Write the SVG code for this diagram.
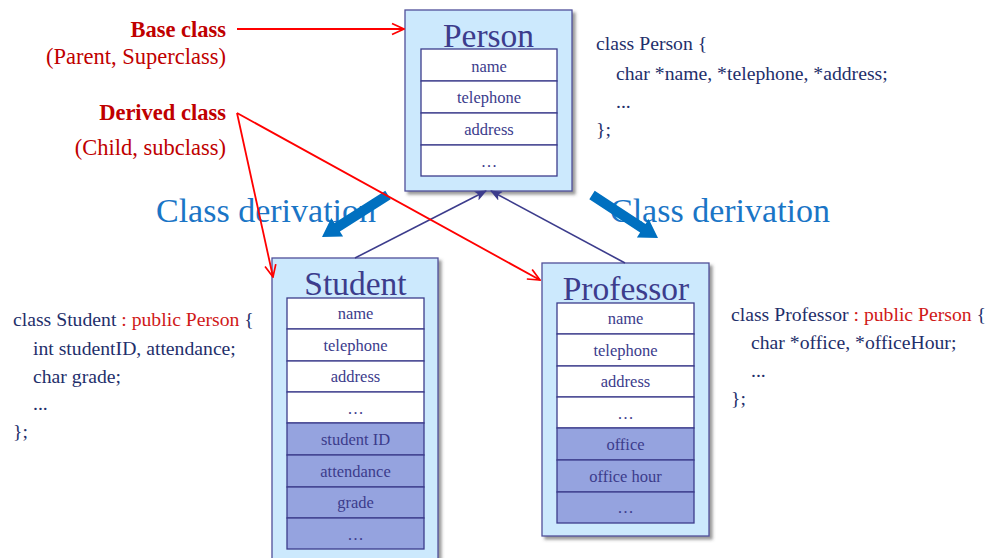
<svg xmlns="http://www.w3.org/2000/svg" width="991" height="558" viewBox="0 0 991 558">
  <defs>
    <filter id="shadow" x="-10%" y="-10%" width="130%" height="130%">
      <feDropShadow dx="3" dy="3" stdDeviation="1.5" flood-color="#555" flood-opacity="0.6"/>
    </filter>
    <marker id="redHead" viewBox="0 0 14 14" refX="13" refY="7" markerWidth="14" markerHeight="14" markerUnits="userSpaceOnUse" orient="auto">
      <path d="M1,1.5 L13,7 L1,12.5" fill="none" stroke="#ff0000" stroke-width="1.7"/>
    </marker>
    <marker id="navyHead" viewBox="0 0 12 10" refX="11" refY="5" markerWidth="12" markerHeight="10" markerUnits="userSpaceOnUse" orient="auto">
      <path d="M0,0 L12,5 L0,10 L3,5 Z" fill="#3c3c8c"/>
    </marker>
  </defs>
  <style>
    .outer { fill: #cce9fd; stroke: #50509a; stroke-width: 1.3; }
    .row { fill: #ffffff; stroke: #3c3c8c; stroke-width: 1.3; }
    .rowx { fill: #95a3df; stroke: #3c3c8c; stroke-width: 1.3; }
    .title { font-family: "Liberation Serif", serif; font-size: 33.5px; fill: #3c3c8c; text-anchor: middle; }
    .cell { font-family: "Liberation Serif", serif; font-size: 16.5px; fill: #3c3c8c; text-anchor: middle; }
    .code { font-family: "Liberation Serif", serif; font-size: 19.7px; fill: #1f2f6b; }
    .kw { fill: #d01818; }
    .lbl { font-family: "Liberation Serif", serif; font-size: 22.5px; fill: #c00000; text-anchor: end; }
    .lblb { font-weight: bold; }
    .deriv { font-family: "Liberation Serif", serif; font-size: 34px; fill: #1a75c6; }
    .red { stroke: #ff0000; stroke-width: 1.8; fill: none; marker-end: url(#redHead); }
    .navy { stroke: #3c3c8c; stroke-width: 1.6; fill: none; marker-end: url(#navyHead); }
    .blue { fill: #0070c0; }
  </style>

  <!-- side labels -->
  <g id="labels">
    <text class="lbl lblb" x="226" y="37">Base class</text>
    <text class="lbl" x="226" y="64">(Parent, Superclass)</text>
    <text class="lbl lblb" x="226" y="120">Derived class</text>
    <text class="lbl" x="226" y="155">(Child, subclass)</text>
  </g>

  <!-- Class derivation captions -->
  <text class="deriv" x="156" y="222">Class derivation</text>
  <text class="deriv" x="610" y="222">Class derivation</text>

  <!-- Person -->
  <g id="person">
    <rect class="outer" x="405" y="10" width="167" height="181" filter="url(#shadow)"/>
    <text class="title" x="488.5" y="47">Person</text>
    <rect class="row" x="421" y="49" width="136" height="32"/>
    <rect class="row" x="421" y="81" width="136" height="32"/>
    <rect class="row" x="421" y="113" width="136" height="32"/>
    <rect class="row" x="421" y="145" width="136" height="31"/>
    <text class="cell" x="489" y="72">name</text>
    <text class="cell" x="489" y="103">telephone</text>
    <text class="cell" x="489" y="135">address</text>
    <text class="cell" x="489" y="167">…</text>
  </g>

  <!-- Student -->
  <g id="student">
    <rect class="outer" x="272" y="258" width="166" height="310" filter="url(#shadow)"/>
    <text class="title" x="355.5" y="295">Student</text>
    <rect class="row" x="287" y="298" width="137" height="31"/>
    <rect class="row" x="287" y="329" width="137" height="32"/>
    <rect class="row" x="287" y="361" width="137" height="31"/>
    <rect class="row" x="287" y="392" width="137" height="31"/>
    <rect class="rowx" x="287" y="423" width="137" height="32"/>
    <rect class="rowx" x="287" y="455" width="137" height="32"/>
    <rect class="rowx" x="287" y="487" width="137" height="31"/>
    <rect class="rowx" x="287" y="518" width="137" height="31"/>
    <text class="cell" x="355.5" y="319">name</text>
    <text class="cell" x="355.5" y="351">telephone</text>
    <text class="cell" x="355.5" y="382">address</text>
    <text class="cell" x="355.5" y="414">…</text>
    <text class="cell" x="355.5" y="445">student ID</text>
    <text class="cell" x="355.5" y="477">attendance</text>
    <text class="cell" x="355.5" y="508">grade</text>
    <text class="cell" x="355.5" y="540">…</text>
  </g>

  <!-- Professor -->
  <g id="professor">
    <rect class="outer" x="542" y="263" width="167" height="273" filter="url(#shadow)"/>
    <text class="title" x="626" y="300">Professor</text>
    <rect class="row" x="557" y="303" width="137" height="31"/>
    <rect class="row" x="557" y="334" width="137" height="32"/>
    <rect class="row" x="557" y="366" width="137" height="31"/>
    <rect class="row" x="557" y="397" width="137" height="31"/>
    <rect class="rowx" x="557" y="428" width="137" height="32"/>
    <rect class="rowx" x="557" y="460" width="137" height="32"/>
    <rect class="rowx" x="557" y="492" width="137" height="31"/>
    <text class="cell" x="625.5" y="324">name</text>
    <text class="cell" x="625.5" y="356">telephone</text>
    <text class="cell" x="625.5" y="387">address</text>
    <text class="cell" x="625.5" y="419">…</text>
    <text class="cell" x="625.5" y="450">office</text>
    <text class="cell" x="625.5" y="482">office hour</text>
    <text class="cell" x="625.5" y="513">…</text>
  </g>

  <!-- source code snippets -->
  <g id="code-person">
    <text class="code" x="596" y="50">class Person {</text>
    <text class="code" x="616" y="80">char *name, *telephone, *address;</text>
    <text class="code" x="616" y="108">...</text>
    <text class="code" x="596" y="136">};</text>
  </g>
  <g id="code-student">
    <text class="code" x="13" y="326">class Student <tspan class="kw">: public Person</tspan> {</text>
    <text class="code" x="33" y="355">int studentID, attendance;</text>
    <text class="code" x="33" y="383">char grade;</text>
    <text class="code" x="33" y="410">...</text>
    <text class="code" x="13" y="438">};</text>
  </g>
  <g id="code-professor">
    <text class="code" x="731" y="321">class Professor <tspan class="kw">: public Person</tspan> {</text>
    <text class="code" x="751" y="349">char *office, *officeHour;</text>
    <text class="code" x="751" y="377">...</text>
    <text class="code" x="731" y="405">};</text>
  </g>

  <!-- connectors -->
  <g id="connectors">
    <line class="navy" x1="355" y1="258" x2="486" y2="191"/>
    <line class="navy" x1="625" y1="263" x2="491" y2="191"/>
    <polygon class="blue" points="390.7,199.2 339.9,231.5 343.1,236.6 322,237 331.3,218 334.5,223.1 385.3,190.8"/>
    <polygon class="blue" points="589.3,199.2 640.1,232.5 636.9,237.6 658,238 648.7,219 645.5,224.1 594.7,190.8"/>
    <line class="red" x1="237" y1="29" x2="404" y2="29"/>
    <line class="red" x1="237" y1="113" x2="273" y2="277"/>
    <line class="red" x1="237" y1="113" x2="540" y2="280"/>
  </g>
</svg>
